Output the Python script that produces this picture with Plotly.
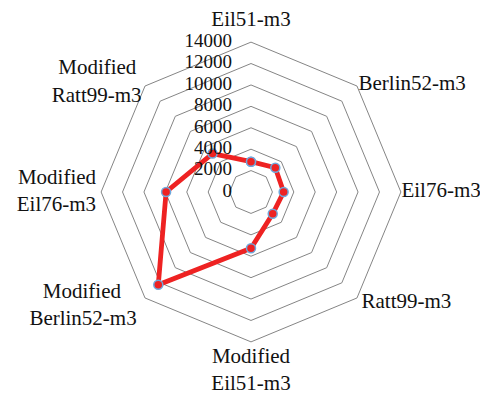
import plotly.graph_objects as go

categories = ["Eil51-m3", "Berlin52-m3", "Eil76-m3", "Ratt99-m3",
              "Modified<br>Eil51-m3", "Modified<br>Berlin52-m3",
              "Modified<br>Eil76-m3", "Modified<br>Ratt99-m3"]
values = [2830, 3210, 3050, 2870, 5260, 12250, 7930, 5080]
tick_vals = [0, 2000, 4000, 6000, 8000, 10000, 12000, 14000]
tick_text = [str(v) for v in tick_vals]

# label placement (radius in data units, text anchor)
label_r = [16000, 14200, 14050, 14600, 16750, 15100, 14470, 14450]
label_pos = ["middle center", "middle right", "middle right", "middle right",
             "middle center", "middle left", "middle left", "middle left"]
NB = "\u00a0"
# centre the two lines of right-anchored (left-side) labels
label_text = [c.replace("Modified<br>", "Modified" + NB * pad + "<br>")
              for c, pad in zip(categories, [0, 0, 0, 0, 0, 3, 0, 1])]

fig = go.Figure()
fig.add_trace(go.Scatterpolar(
    r=values + values[:1],
    theta=categories + categories[:1],
    mode="lines+markers",
    line=dict(color="#ee2222", width=4.8),
    marker=dict(size=9, color="#ee2222", line=dict(color="#6fa8dc", width=1.5)),
    showlegend=False,
))
# radial tick labels
fig.add_trace(go.Scatterpolar(
    r=[max(v, 1) for v in tick_vals],
    theta=[categories[0]] * len(tick_vals),
    mode="text",
    text=[t + NB * 4 for t in tick_text],
    textposition="middle left",
    textfont=dict(family="Liberation Serif", size=19, color="#111"),
    cliponaxis=False,
    showlegend=False,
    hoverinfo="skip",
))
# category labels
fig.add_trace(go.Scatterpolar(
    r=label_r,
    theta=categories,
    mode="text",
    text=label_text,
    textposition=label_pos,
    textfont=dict(family="Liberation Serif", size=21, color="#111"),
    cliponaxis=False,
    showlegend=False,
    hoverinfo="skip",
))

fig.update_layout(
    width=488, height=394,
    margin=dict(l=0, r=0, t=0, b=0),
    paper_bgcolor="white",
    plot_bgcolor="white",
    font=dict(family="Liberation Serif", size=16, color="#111"),
    polar=dict(
        domain=dict(x=[61/488, 425/488], y=[28/394, 392/394]),
        bgcolor="white",
        gridshape="linear",
        angularaxis=dict(
            rotation=90, direction="clockwise",
            showgrid=False, showline=False, ticks="",
            showticklabels=False,
        ),
        radialaxis=dict(
            range=[0, 17000], tickvals=tick_vals,
            showticklabels=False, showline=False, ticks="",
            gridcolor="#858585", gridwidth=1.4,
        ),
    ),
)
fig.write_html("out.html")
